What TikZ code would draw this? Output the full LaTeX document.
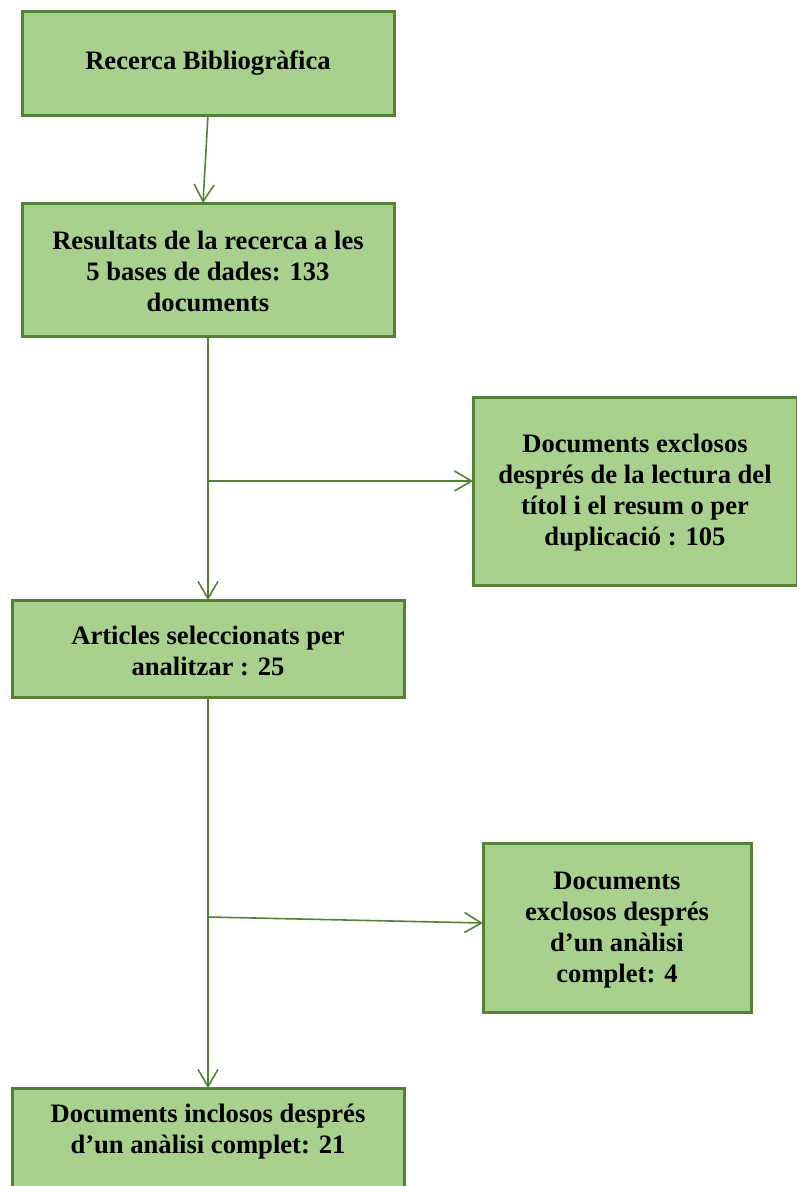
\documentclass[tikz,border=0pt]{standalone}
\usepackage{fontspec}
\setmainfont{Liberation Serif}
\usetikzlibrary{arrows.meta}
\definecolor{boxfill}{HTML}{A9D18E}
\definecolor{boxline}{HTML}{548235}
\begin{document}
\begin{tikzpicture}[x=1pt,y=-1pt,
  box/.style={draw=boxline,fill=boxfill,line width=3pt,inner sep=0pt},
  lbl/.style={font=\fontsize{26.6}{31}\selectfont\bfseries,align=center},
  conn/.style={draw=boxline,line width=1.6pt,-{Straight Barb[length=17pt,width=20pt,line width=1.6pt]}},
  line/.style={draw=boxline,line width=1.6pt}]
\useasboundingbox (0,0) rectangle (797,1186);
\path[box] (22,11) rectangle (394,115);
\node[lbl] (n1) at (208,63) {Recerca Bibliogràfica};
\coordinate (b1) at (208,115);
\path[box] (22,203) rectangle (394,336);
\node[lbl] (n2) at (208,271) {Resultats de la recerca a les\\5 bases de dades: 133\\documents};
\coordinate (t2) at (203,203);
\coordinate (b2) at (208,336);
\path[box] (473,397) rectangle (797,585);
\node[lbl] (n3) at (635,493) {Documents exclosos\\després de la lectura del\\títol i el resum o per\\duplicació : 105};
\coordinate (l3) at (473,481);
\path[box] (12,600) rectangle (404,697);
\node[lbl] (n4) at (208,651) {Articles seleccionats per\\analitzar : 25};
\coordinate (t4) at (208,600);
\coordinate (b4) at (208,697);
\path[box] (483,843) rectangle (751,1012);
\node[lbl] (n5) at (617,930) {Documents\\exclosos després\\d’un anàlisi\\complet: 4};
\coordinate (l5) at (483,923);
\path[box] (12,1088) rectangle (404,1200);
\node[lbl] (n6) at (208,1132) {Documents inclosos després\\d’un anàlisi complet: 21};
\coordinate (t6) at (208,1088);
\coordinate (j1) at (208,481);
\coordinate (j2) at (208,917);
\draw[conn] (b1) -- (t2);
\draw[conn] (b2) -- (t4);
\draw[conn] (j1) -- (l3);
\draw[conn] (b4) -- (t6);
\draw[conn] (j2) -- (l5);
\end{tikzpicture}
\end{document}
